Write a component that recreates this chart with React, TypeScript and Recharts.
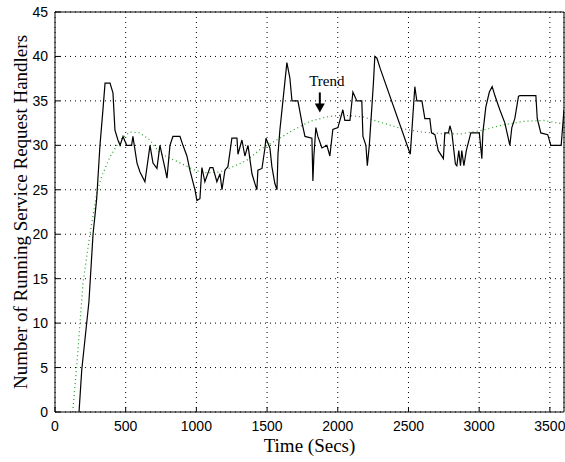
import { LineChart, Line, XAxis, YAxis, CartesianGrid, ReferenceDot } from "recharts";

// measured handler count (time in secs, value)
const handlerTimes = [
  170, 189, 240, 269, 295, 318, 337, 354, 389, 410, 424, 445, 460, 481, 507, 542, 551, 580, 601, 636,
  672, 693, 721, 742, 778, 792, 813, 834, 884, 905, 933, 954, 990, 1004, 1025, 1039, 1060, 1096, 1117, 1145,
  1167, 1181, 1202, 1223, 1251, 1287, 1294, 1322, 1343, 1365, 1393, 1414, 1428, 1435, 1464, 1485, 1492, 1520, 1534, 1555,
  1570, 1577, 1591, 1612, 1640, 1661, 1676, 1718, 1746, 1768, 1817, 1824, 1831, 1845, 1859, 1888, 1923, 1944, 1965, 2001,
  2036, 2050, 2086, 2107, 2135, 2170, 2178, 2199, 2209, 2223, 2241, 2252, 2262, 2277, 2301, 2513, 2531, 2545, 2559, 2595,
  2616, 2651, 2663, 2687, 2711, 2747, 2757, 2783, 2793, 2807, 2832, 2842, 2856, 2868, 2877, 2892, 2909, 2941, 3001, 3019,
  3026, 3047, 3072, 3092, 3111, 3146, 3182, 3217, 3231, 3252, 3278, 3288, 3401, 3411, 3436, 3485, 3507, 3580, 3590, 3600,
];
const handlerValues = [
  0, 4.7, 12.4, 20, 24, 30, 33.6, 37, 37, 35.9, 31.7, 30.6, 30, 31, 30, 30, 31, 28, 27, 25.9,
  30, 28, 27.4, 30, 27.4, 26.3, 30, 31, 31, 30, 28.8, 27.2, 25, 23.8, 24, 27.5, 25.9, 27.5, 27.5, 25.9,
  26.8, 25, 27.2, 27.6, 30.8, 30.8, 29, 30.6, 28.8, 30, 26.8, 25.7, 25, 27.2, 27.4, 29.7, 30.8, 29.7, 27.6, 25.7,
  25, 29, 31.8, 35, 39.3, 37.6, 35, 35, 32.6, 31, 30.8, 26, 28.8, 32, 31, 29.7, 30, 28.8, 31.8, 32,
  34, 32.8, 32.8, 36, 35, 35, 31, 30, 27.7, 30, 34.3, 37, 40, 39.8, 38.6, 29, 33.3, 36.6, 35, 35,
  33, 33, 31.4, 31.2, 29.4, 28.5, 31.4, 31.4, 32.2, 31.4, 27.9, 27.7, 29.4, 27.7, 29.4, 27.7, 29.4, 31.4, 31.4, 28.5,
  31.4, 34.3, 36, 36.6, 35.6, 34, 32.5, 30, 32, 33, 35.5, 35.6, 35.6, 33, 31.4, 31.2, 30, 30, 32, 34,
];

// fitted trend
const trendTimes = [
  125, 153, 198, 247, 295, 330, 389, 460, 530, 601, 672, 742, 848, 990, 1072, 1167, 1259, 1355,
  1449, 1567, 1683, 1803, 1921, 2036, 2178, 2301, 2446, 2590, 2736, 2877, 3026, 3168, 3316, 3457, 3600,
];
const trendValues = [
  0, 5, 14.5, 20, 24.6, 26.5, 28.7, 30.6, 31.5, 31.4, 30.6, 29.1, 28.3, 27.2, 26.9, 27, 27.6, 28.3,
  29.5, 30.6, 31.7, 32.7, 33.2, 33.4, 33.2, 32.6, 31.9, 31.5, 31.3, 31.3, 31.7, 32.3, 32.7, 32.8, 32.4,
];

const xTicks = [0, 500, 1000, 1500, 2000, 2500, 3000, 3500];
const yTicks = [0, 5, 10, 15, 20, 25, 30, 35, 40, 45];

const trendNote = { t: 1873, v: 33.7, text: "Trend" };

const handlers = handlerTimes.map((t, i) => ({ t, v: handlerValues[i] }));
const trend = trendTimes.map((t, i) => ({ t, v: trendValues[i] }));

const tickStyle = { fontSize: 14, fill: "#000", fontFamily: "Liberation Sans, Arial, sans-serif" };
const serif = "Liberation Serif, Times New Roman, serif";

function TrendArrow(props: any) {
  const { cx, cy } = props;
  return (
    <g>
      <line x1={cx} y1={cy - 20} x2={cx} y2={cy - 6} stroke="#000" strokeWidth={2} />
      <polygon points={`${cx - 5},${cy - 9} ${cx + 5},${cy - 9} ${cx},${cy}`} fill="#000" />
      <text x={cx + 7} y={cy - 26} textAnchor="middle" fontSize={15} fontFamily={serif} fill="#000">
        {trendNote.text}
      </text>
    </g>
  );
}

export default function App() {
  return (
    <div style={{ width: 565, height: 462, background: "#fff" }}>
      <style>{"body{margin:0}"}</style>
      <LineChart width={565} height={462} margin={{ top: 0, right: 0, left: 0, bottom: 0 }}>
        <CartesianGrid stroke="#000" strokeDasharray="1 4" />
        <XAxis
          dataKey="t"
          type="number"
          domain={[0, 3600]}
          ticks={xTicks}
          height={50}
          axisLine={{ stroke: "#000" }}
          tickLine={{ stroke: "#000" }}
          tickSize={-5}
          tickMargin={14}
          tick={tickStyle}
          allowDataOverflow
          label={{ value: "Time (Secs)", position: "insideBottom", offset: 10, fontSize: 19, fontFamily: serif, fill: "#000" }}
        />
        <XAxis
          xAxisId="top"
          orientation="top"
          type="number"
          domain={[0, 3600]}
          ticks={xTicks}
          height={12}
          axisLine={{ stroke: "#000" }}
          tickLine={{ stroke: "#000" }}
          tickSize={-5}
          tick={false}
        />
        <YAxis
          type="number"
          domain={[0, 45]}
          ticks={yTicks}
          width={55}
          axisLine={{ stroke: "#000" }}
          tickLine={{ stroke: "#000" }}
          tickSize={-5}
          tickMargin={12}
          tick={tickStyle}
          allowDataOverflow
          label={{
            value: "Number of Running Service Request Handlers",
            angle: -90,
            position: "insideLeft",
            offset: 20,
            style: { textAnchor: "middle" },
            fontSize: 19,
            fontFamily: serif,
            fill: "#000",
          }}
        />
        <YAxis
          yAxisId="right"
          orientation="right"
          type="number"
          domain={[0, 45]}
          ticks={yTicks}
          width={1}
          axisLine={{ stroke: "#000" }}
          tickLine={{ stroke: "#000" }}
          tickSize={-5}
          tick={false}
        />
        <Line
          data={trend}
          dataKey="v"
          type="linear"
          stroke="#1f9e1f"
          strokeWidth={1.2}
          strokeDasharray="1 3"
          dot={false}
          activeDot={false}
          isAnimationActive={false}
        />
        <Line
          data={handlers}
          dataKey="v"
          type="linear"
          stroke="#000"
          strokeWidth={1.2}
          dot={false}
          activeDot={false}
          isAnimationActive={false}
        />
        <ReferenceDot x={trendNote.t} y={trendNote.v} shape={TrendArrow} />
      </LineChart>
    </div>
  );
}
